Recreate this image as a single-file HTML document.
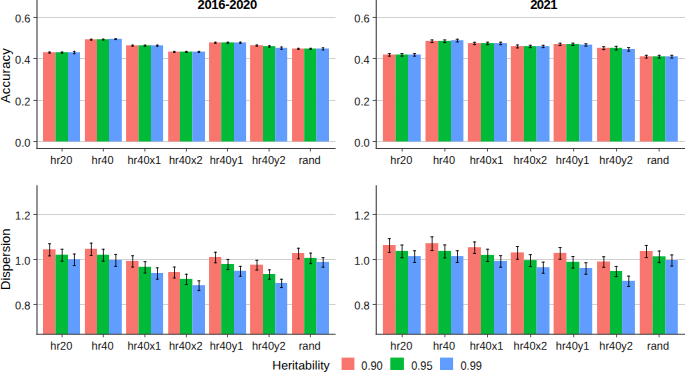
<!DOCTYPE html>
<html><head><meta charset="utf-8"><title>chart</title>
<style>
html,body{margin:0;padding:0;background:#fff;}
body{width:685px;height:372px;overflow:hidden;position:relative;}
svg text{font-family:"Liberation Sans",sans-serif;}
</style></head><body>
<svg width="685" height="372" viewBox="0 0 685 372" style="display:block;position:absolute;left:0;top:0">
<rect x="0" y="0" width="685" height="372" fill="#ffffff"/>
<line x1="37.00" y1="17.45" x2="335.60" y2="17.45" stroke="#d0d0d0" stroke-width="1.1"/>
<line x1="37.00" y1="58.50" x2="335.60" y2="58.50" stroke="#d0d0d0" stroke-width="1.1"/>
<line x1="37.00" y1="100.45" x2="335.60" y2="100.45" stroke="#d0d0d0" stroke-width="1.1"/>
<line x1="37.00" y1="141.50" x2="335.60" y2="141.50" stroke="#d0d0d0" stroke-width="1.1"/>
<rect x="43.00" y="52.20" width="12.55" height="89.30" fill="#F8766D"/>
<rect x="55.50" y="52.20" width="12.55" height="89.30" fill="#00BA38"/>
<rect x="68.00" y="52.20" width="12.00" height="89.30" fill="#619CFF"/>
<path d="M48.20 52.00H50.80M48.20 53.10H50.80M49.70 51.50V53.60" stroke="#000" stroke-width="0.85" fill="none"/>
<path d="M60.70 52.00H63.30M60.70 53.10H63.30M62.20 51.50V53.60" stroke="#000" stroke-width="0.85" fill="none"/>
<path d="M72.95 51.40H75.55M72.95 53.70H75.55M74.45 50.90V54.20" stroke="#000" stroke-width="0.85" fill="none"/>
<rect x="84.90" y="39.30" width="12.05" height="102.20" fill="#F8766D"/>
<rect x="96.90" y="39.20" width="12.15" height="102.30" fill="#00BA38"/>
<rect x="109.00" y="38.80" width="12.80" height="102.70" fill="#619CFF"/>
<path d="M89.85 39.20H92.45M89.85 40.10H92.45M91.35 38.70V40.60" stroke="#000" stroke-width="0.85" fill="none"/>
<path d="M101.90 39.15H104.50M101.90 39.95H104.50M103.40 38.65V40.45" stroke="#000" stroke-width="0.85" fill="none"/>
<path d="M114.35 38.75H116.95M114.35 39.55H116.95M115.85 38.25V40.05" stroke="#000" stroke-width="0.85" fill="none"/>
<rect x="126.10" y="45.30" width="12.45" height="96.20" fill="#F8766D"/>
<rect x="138.50" y="45.30" width="12.50" height="96.20" fill="#00BA38"/>
<rect x="150.95" y="45.30" width="12.15" height="96.20" fill="#619CFF"/>
<path d="M131.25 45.10H133.85M131.25 46.20H133.85M132.75 44.60V46.70" stroke="#000" stroke-width="0.85" fill="none"/>
<path d="M143.67 45.10H146.28M143.67 46.20H146.28M145.17 44.60V46.70" stroke="#000" stroke-width="0.85" fill="none"/>
<path d="M155.97 45.10H158.57M155.97 46.20H158.57M157.47 44.60V46.70" stroke="#000" stroke-width="0.85" fill="none"/>
<rect x="168.20" y="51.60" width="11.75" height="89.90" fill="#F8766D"/>
<rect x="179.90" y="51.60" width="12.45" height="89.90" fill="#00BA38"/>
<rect x="192.30" y="51.60" width="12.70" height="89.90" fill="#619CFF"/>
<path d="M173.00 51.40H175.60M173.00 52.50H175.60M174.50 50.90V53.00" stroke="#000" stroke-width="0.85" fill="none"/>
<path d="M185.05 51.40H187.65M185.05 52.50H187.65M186.55 50.90V53.00" stroke="#000" stroke-width="0.85" fill="none"/>
<path d="M197.60 51.40H200.20M197.60 52.50H200.20M199.10 50.90V53.00" stroke="#000" stroke-width="0.85" fill="none"/>
<rect x="209.05" y="42.40" width="12.20" height="99.10" fill="#F8766D"/>
<rect x="221.20" y="42.40" width="12.85" height="99.10" fill="#00BA38"/>
<rect x="234.00" y="42.40" width="12.10" height="99.10" fill="#619CFF"/>
<path d="M214.07 42.20H216.68M214.07 43.30H216.68M215.57 41.70V43.80" stroke="#000" stroke-width="0.85" fill="none"/>
<path d="M226.55 42.20H229.15M226.55 43.30H229.15M228.05 41.70V43.80" stroke="#000" stroke-width="0.85" fill="none"/>
<path d="M239.00 42.10H241.60M239.00 43.40H241.60M240.50 41.60V43.90" stroke="#000" stroke-width="0.85" fill="none"/>
<rect x="250.10" y="45.20" width="12.95" height="96.30" fill="#F8766D"/>
<rect x="263.00" y="46.10" width="12.25" height="95.40" fill="#00BA38"/>
<rect x="275.20" y="47.80" width="12.00" height="93.70" fill="#619CFF"/>
<path d="M255.50 45.00H258.10M255.50 46.10H258.10M257.00 44.50V46.60" stroke="#000" stroke-width="0.85" fill="none"/>
<path d="M268.05 45.70H270.65M268.05 47.20H270.65M269.55 45.20V47.70" stroke="#000" stroke-width="0.85" fill="none"/>
<path d="M280.15 47.00H282.75M280.15 49.30H282.75M281.65 46.50V49.80" stroke="#000" stroke-width="0.85" fill="none"/>
<rect x="292.05" y="48.50" width="12.20" height="93.00" fill="#F8766D"/>
<rect x="304.20" y="48.50" width="12.35" height="93.00" fill="#00BA38"/>
<rect x="316.50" y="48.50" width="12.50" height="93.00" fill="#619CFF"/>
<path d="M297.07 48.30H299.68M297.07 49.40H299.68M298.57 47.80V49.90" stroke="#000" stroke-width="0.85" fill="none"/>
<path d="M309.30 48.30H311.90M309.30 49.40H311.90M310.80 47.80V49.90" stroke="#000" stroke-width="0.85" fill="none"/>
<path d="M321.70 47.80H324.30M321.70 49.90H324.30M323.20 47.30V50.40" stroke="#000" stroke-width="0.85" fill="none"/>
<line x1="37.00" y1="0.00" x2="37.00" y2="149.05" stroke="#404040" stroke-width="1.12"/>
<line x1="36.47" y1="148.52" x2="335.60" y2="148.52" stroke="#404040" stroke-width="1.12"/>
<line x1="33.40" y1="17.45" x2="37.00" y2="17.45" stroke="#404040" stroke-width="0.9"/>
<text transform="translate(30.40,22.60) scale(1,1.053) rotate(0.05)" text-anchor="end" font-size="11.00" fill="#111111">0.6</text>
<line x1="33.40" y1="58.50" x2="37.00" y2="58.50" stroke="#404040" stroke-width="0.9"/>
<text transform="translate(30.40,63.65) scale(1,1.053) rotate(0.05)" text-anchor="end" font-size="11.00" fill="#111111">0.4</text>
<line x1="33.40" y1="100.45" x2="37.00" y2="100.45" stroke="#404040" stroke-width="0.9"/>
<text transform="translate(30.40,105.60) scale(1,1.053) rotate(0.05)" text-anchor="end" font-size="11.00" fill="#111111">0.2</text>
<line x1="33.40" y1="141.50" x2="37.00" y2="141.50" stroke="#404040" stroke-width="0.9"/>
<text transform="translate(30.40,146.65) scale(1,1.053) rotate(0.05)" text-anchor="end" font-size="11.00" fill="#111111">0.0</text>
<line x1="62.10" y1="148.52" x2="62.10" y2="151.52" stroke="#404040" stroke-width="0.9"/>
<text transform="translate(61.30,164.10) scale(1,1.053) rotate(0.05)" text-anchor="middle" font-size="11.00" fill="#111111">hr20</text>
<line x1="103.30" y1="148.52" x2="103.30" y2="151.52" stroke="#404040" stroke-width="0.9"/>
<text transform="translate(102.55,164.10) scale(1,1.053) rotate(0.05)" text-anchor="middle" font-size="11.00" fill="#111111">hr40</text>
<line x1="144.90" y1="148.52" x2="144.90" y2="151.52" stroke="#404040" stroke-width="0.9"/>
<text transform="translate(144.30,164.10) scale(1,1.053) rotate(0.05)" text-anchor="middle" font-size="11.00" fill="#111111">hr40x1</text>
<line x1="186.40" y1="148.52" x2="186.40" y2="151.52" stroke="#404040" stroke-width="0.9"/>
<text transform="translate(185.70,164.10) scale(1,1.053) rotate(0.05)" text-anchor="middle" font-size="11.00" fill="#111111">hr40x2</text>
<line x1="227.50" y1="148.52" x2="227.50" y2="151.52" stroke="#404040" stroke-width="0.9"/>
<text transform="translate(226.50,164.10) scale(1,1.053) rotate(0.05)" text-anchor="middle" font-size="11.00" fill="#111111">hr40y1</text>
<line x1="269.10" y1="148.52" x2="269.10" y2="151.52" stroke="#404040" stroke-width="0.9"/>
<text transform="translate(268.80,164.10) scale(1,1.053) rotate(0.05)" text-anchor="middle" font-size="11.00" fill="#111111">hr40y2</text>
<line x1="310.40" y1="148.52" x2="310.40" y2="151.52" stroke="#404040" stroke-width="0.9"/>
<text transform="translate(309.65,164.10) scale(1,1.053) rotate(0.05)" text-anchor="middle" font-size="11.00" fill="#111111">rand</text>
<line x1="376.25" y1="17.45" x2="686.00" y2="17.45" stroke="#d0d0d0" stroke-width="1.1"/>
<line x1="376.25" y1="58.50" x2="686.00" y2="58.50" stroke="#d0d0d0" stroke-width="1.1"/>
<line x1="376.25" y1="100.45" x2="686.00" y2="100.45" stroke="#d0d0d0" stroke-width="1.1"/>
<line x1="376.25" y1="141.50" x2="686.00" y2="141.50" stroke="#d0d0d0" stroke-width="1.1"/>
<rect x="382.90" y="54.50" width="12.75" height="87.00" fill="#F8766D"/>
<rect x="395.60" y="54.50" width="12.45" height="87.00" fill="#00BA38"/>
<rect x="408.00" y="54.50" width="12.75" height="87.00" fill="#619CFF"/>
<path d="M387.75 53.60H390.95M387.75 56.10H390.95M389.55 53.10V56.60" stroke="#000" stroke-width="0.85" fill="none"/>
<path d="M400.30 53.60H403.50M400.30 56.10H403.50M402.10 53.10V56.60" stroke="#000" stroke-width="0.85" fill="none"/>
<path d="M412.88 53.60H416.08M412.88 56.10H416.08M414.68 53.10V56.60" stroke="#000" stroke-width="0.85" fill="none"/>
<rect x="425.50" y="40.90" width="12.75" height="100.60" fill="#F8766D"/>
<rect x="438.20" y="40.90" width="12.85" height="100.60" fill="#00BA38"/>
<rect x="451.00" y="40.20" width="12.40" height="101.30" fill="#619CFF"/>
<path d="M430.35 39.95H433.55M430.35 42.55H433.55M432.15 39.45V43.05" stroke="#000" stroke-width="0.85" fill="none"/>
<path d="M443.10 39.95H446.30M443.10 42.55H446.30M444.90 39.45V43.05" stroke="#000" stroke-width="0.85" fill="none"/>
<path d="M455.70 39.25H458.90M455.70 41.85H458.90M457.50 38.75V42.35" stroke="#000" stroke-width="0.85" fill="none"/>
<rect x="467.90" y="43.10" width="13.05" height="98.40" fill="#F8766D"/>
<rect x="480.90" y="43.10" width="13.15" height="98.40" fill="#00BA38"/>
<rect x="494.00" y="43.10" width="13.00" height="98.40" fill="#619CFF"/>
<path d="M472.90 42.30H476.10M472.90 44.60H476.10M474.70 41.80V45.10" stroke="#000" stroke-width="0.85" fill="none"/>
<path d="M485.95 42.20H489.15M485.95 44.70H489.15M487.75 41.70V45.20" stroke="#000" stroke-width="0.85" fill="none"/>
<path d="M499.00 42.20H502.20M499.00 44.70H502.20M500.80 41.70V45.20" stroke="#000" stroke-width="0.85" fill="none"/>
<rect x="510.80" y="46.10" width="13.05" height="95.40" fill="#F8766D"/>
<rect x="523.80" y="46.10" width="12.85" height="95.40" fill="#00BA38"/>
<rect x="536.60" y="46.10" width="12.90" height="95.40" fill="#619CFF"/>
<path d="M515.80 45.00H519.00M515.80 47.90H519.00M517.60 44.50V48.40" stroke="#000" stroke-width="0.85" fill="none"/>
<path d="M528.70 45.30H531.90M528.70 47.60H531.90M530.50 44.80V48.10" stroke="#000" stroke-width="0.85" fill="none"/>
<path d="M541.55 45.30H544.75M541.55 47.60H544.75M543.35 44.80V48.10" stroke="#000" stroke-width="0.85" fill="none"/>
<rect x="553.60" y="44.00" width="12.75" height="97.50" fill="#F8766D"/>
<rect x="566.30" y="44.00" width="13.05" height="97.50" fill="#00BA38"/>
<rect x="579.30" y="44.60" width="12.90" height="96.90" fill="#619CFF"/>
<path d="M558.45 43.20H561.65M558.45 45.50H561.65M560.25 42.70V46.00" stroke="#000" stroke-width="0.85" fill="none"/>
<path d="M571.30 43.20H574.50M571.30 45.50H574.50M573.10 42.70V46.00" stroke="#000" stroke-width="0.85" fill="none"/>
<path d="M584.25 43.80H587.45M584.25 46.10H587.45M586.05 43.30V46.60" stroke="#000" stroke-width="0.85" fill="none"/>
<rect x="597.10" y="47.80" width="12.95" height="93.70" fill="#F8766D"/>
<rect x="610.00" y="47.80" width="12.15" height="93.70" fill="#00BA38"/>
<rect x="622.10" y="49.00" width="12.80" height="92.50" fill="#619CFF"/>
<path d="M602.05 46.70H605.25M602.05 49.60H605.25M603.85 46.20V50.10" stroke="#000" stroke-width="0.85" fill="none"/>
<path d="M614.55 46.35H617.75M614.55 49.95H617.75M616.35 45.85V50.45" stroke="#000" stroke-width="0.85" fill="none"/>
<path d="M627.00 47.60H630.20M627.00 51.10H630.20M628.80 47.10V51.60" stroke="#000" stroke-width="0.85" fill="none"/>
<rect x="639.80" y="56.30" width="12.85" height="85.20" fill="#F8766D"/>
<rect x="652.60" y="56.30" width="12.95" height="85.20" fill="#00BA38"/>
<rect x="665.50" y="56.30" width="12.30" height="85.20" fill="#619CFF"/>
<path d="M644.70 55.30H647.90M644.70 58.00H647.90M646.50 54.80V58.50" stroke="#000" stroke-width="0.85" fill="none"/>
<path d="M657.55 55.30H660.75M657.55 58.00H660.75M659.35 54.80V58.50" stroke="#000" stroke-width="0.85" fill="none"/>
<path d="M670.15 55.30H673.35M670.15 58.00H673.35M671.95 54.80V58.50" stroke="#000" stroke-width="0.85" fill="none"/>
<line x1="376.25" y1="0.00" x2="376.25" y2="149.05" stroke="#404040" stroke-width="1.12"/>
<line x1="375.72" y1="148.52" x2="686.00" y2="148.52" stroke="#404040" stroke-width="1.12"/>
<line x1="372.65" y1="17.45" x2="376.25" y2="17.45" stroke="#404040" stroke-width="0.9"/>
<text transform="translate(369.65,22.60) scale(1,1.053) rotate(0.05)" text-anchor="end" font-size="11.00" fill="#111111">0.6</text>
<line x1="372.65" y1="58.50" x2="376.25" y2="58.50" stroke="#404040" stroke-width="0.9"/>
<text transform="translate(369.65,63.65) scale(1,1.053) rotate(0.05)" text-anchor="end" font-size="11.00" fill="#111111">0.4</text>
<line x1="372.65" y1="100.45" x2="376.25" y2="100.45" stroke="#404040" stroke-width="0.9"/>
<text transform="translate(369.65,105.60) scale(1,1.053) rotate(0.05)" text-anchor="end" font-size="11.00" fill="#111111">0.2</text>
<line x1="372.65" y1="141.50" x2="376.25" y2="141.50" stroke="#404040" stroke-width="0.9"/>
<text transform="translate(369.65,146.65) scale(1,1.053) rotate(0.05)" text-anchor="end" font-size="11.00" fill="#111111">0.0</text>
<line x1="402.20" y1="148.52" x2="402.20" y2="151.52" stroke="#404040" stroke-width="0.9"/>
<text transform="translate(401.30,164.10) scale(1,1.053) rotate(0.05)" text-anchor="middle" font-size="11.00" fill="#111111">hr20</text>
<line x1="444.90" y1="148.52" x2="444.90" y2="151.52" stroke="#404040" stroke-width="0.9"/>
<text transform="translate(444.00,164.10) scale(1,1.053) rotate(0.05)" text-anchor="middle" font-size="11.00" fill="#111111">hr40</text>
<line x1="487.50" y1="148.52" x2="487.50" y2="151.52" stroke="#404040" stroke-width="0.9"/>
<text transform="translate(486.50,164.10) scale(1,1.053) rotate(0.05)" text-anchor="middle" font-size="11.00" fill="#111111">hr40x1</text>
<line x1="530.70" y1="148.52" x2="530.70" y2="151.52" stroke="#404040" stroke-width="0.9"/>
<text transform="translate(530.40,164.10) scale(1,1.053) rotate(0.05)" text-anchor="middle" font-size="11.00" fill="#111111">hr40x2</text>
<line x1="573.70" y1="148.52" x2="573.70" y2="151.52" stroke="#404040" stroke-width="0.9"/>
<text transform="translate(572.60,164.10) scale(1,1.053) rotate(0.05)" text-anchor="middle" font-size="11.00" fill="#111111">hr40y1</text>
<line x1="616.60" y1="148.52" x2="616.60" y2="151.52" stroke="#404040" stroke-width="0.9"/>
<text transform="translate(616.10,164.10) scale(1,1.053) rotate(0.05)" text-anchor="middle" font-size="11.00" fill="#111111">hr40y2</text>
<line x1="659.10" y1="148.52" x2="659.10" y2="151.52" stroke="#404040" stroke-width="0.9"/>
<text transform="translate(658.05,164.10) scale(1,1.053) rotate(0.05)" text-anchor="middle" font-size="11.00" fill="#111111">rand</text>
<line x1="37.00" y1="214.45" x2="335.60" y2="214.45" stroke="#d0d0d0" stroke-width="1.1"/>
<line x1="37.00" y1="259.50" x2="335.60" y2="259.50" stroke="#d0d0d0" stroke-width="1.1"/>
<line x1="37.00" y1="304.45" x2="335.60" y2="304.45" stroke="#d0d0d0" stroke-width="1.1"/>
<rect x="43.00" y="249.30" width="12.55" height="85.00" fill="#F8766D"/>
<rect x="55.50" y="254.70" width="12.55" height="79.60" fill="#00BA38"/>
<rect x="68.00" y="259.30" width="12.00" height="75.00" fill="#619CFF"/>
<path d="M48.00 243.75H51.00M48.00 255.85H51.00M49.70 243.25V256.35" stroke="#000" stroke-width="0.85" fill="none"/>
<path d="M60.50 249.25H63.50M60.50 261.15H63.50M62.20 248.75V261.65" stroke="#000" stroke-width="0.85" fill="none"/>
<path d="M72.75 254.05H75.75M72.75 265.55H75.75M74.45 253.55V266.05" stroke="#000" stroke-width="0.85" fill="none"/>
<rect x="84.90" y="248.80" width="12.05" height="85.50" fill="#F8766D"/>
<rect x="96.90" y="254.70" width="12.15" height="79.60" fill="#00BA38"/>
<rect x="109.00" y="259.90" width="12.80" height="74.40" fill="#619CFF"/>
<path d="M89.65 243.15H92.65M89.65 255.45H92.65M91.35 242.65V255.95" stroke="#000" stroke-width="0.85" fill="none"/>
<path d="M101.70 249.25H104.70M101.70 261.15H104.70M103.40 248.75V261.65" stroke="#000" stroke-width="0.85" fill="none"/>
<path d="M114.15 254.45H117.15M114.15 266.35H117.15M115.85 253.95V266.85" stroke="#000" stroke-width="0.85" fill="none"/>
<rect x="126.10" y="260.90" width="12.45" height="73.40" fill="#F8766D"/>
<rect x="138.50" y="266.80" width="12.50" height="67.50" fill="#00BA38"/>
<rect x="150.95" y="273.00" width="12.15" height="61.30" fill="#619CFF"/>
<path d="M131.05 255.75H134.05M131.05 267.05H134.05M132.75 255.25V267.55" stroke="#000" stroke-width="0.85" fill="none"/>
<path d="M143.47 261.65H146.47M143.47 272.95H146.47M145.17 261.15V273.45" stroke="#000" stroke-width="0.85" fill="none"/>
<path d="M155.77 267.85H158.77M155.77 279.15H158.77M157.47 267.35V279.65" stroke="#000" stroke-width="0.85" fill="none"/>
<rect x="168.20" y="272.00" width="11.75" height="62.30" fill="#F8766D"/>
<rect x="179.90" y="278.90" width="12.45" height="55.40" fill="#00BA38"/>
<rect x="192.30" y="285.20" width="12.70" height="49.10" fill="#619CFF"/>
<path d="M172.80 267.05H175.80M172.80 277.95H175.80M174.50 266.55V278.45" stroke="#000" stroke-width="0.85" fill="none"/>
<path d="M184.85 274.25H187.85M184.85 284.55H187.85M186.55 273.75V285.05" stroke="#000" stroke-width="0.85" fill="none"/>
<path d="M197.40 280.85H200.40M197.40 290.55H200.40M199.10 280.35V291.05" stroke="#000" stroke-width="0.85" fill="none"/>
<rect x="209.05" y="257.00" width="12.20" height="77.30" fill="#F8766D"/>
<rect x="221.20" y="264.00" width="12.85" height="70.30" fill="#00BA38"/>
<rect x="234.00" y="270.80" width="12.10" height="63.50" fill="#619CFF"/>
<path d="M213.88 252.25H216.88M213.88 262.75H216.88M215.57 251.75V263.25" stroke="#000" stroke-width="0.85" fill="none"/>
<path d="M226.35 259.45H229.35M226.35 269.55H229.35M228.05 258.95V270.05" stroke="#000" stroke-width="0.85" fill="none"/>
<path d="M238.80 266.35H241.80M238.80 276.25H241.80M240.50 265.85V276.75" stroke="#000" stroke-width="0.85" fill="none"/>
<rect x="250.10" y="264.70" width="12.95" height="69.60" fill="#F8766D"/>
<rect x="263.00" y="274.00" width="12.25" height="60.30" fill="#00BA38"/>
<rect x="275.20" y="282.90" width="12.00" height="51.40" fill="#619CFF"/>
<path d="M255.30 260.35H258.30M255.30 270.05H258.30M257.00 259.85V270.55" stroke="#000" stroke-width="0.85" fill="none"/>
<path d="M267.85 269.85H270.85M267.85 279.15H270.85M269.55 269.35V279.65" stroke="#000" stroke-width="0.85" fill="none"/>
<path d="M279.95 279.25H282.95M279.95 287.55H282.95M281.65 278.75V288.05" stroke="#000" stroke-width="0.85" fill="none"/>
<rect x="292.05" y="253.00" width="12.20" height="81.30" fill="#F8766D"/>
<rect x="304.20" y="257.90" width="12.35" height="76.40" fill="#00BA38"/>
<rect x="316.50" y="261.90" width="12.50" height="72.40" fill="#619CFF"/>
<path d="M296.88 248.25H299.88M296.88 258.75H299.88M298.57 247.75V259.25" stroke="#000" stroke-width="0.85" fill="none"/>
<path d="M309.10 253.15H312.10M309.10 263.65H312.10M310.80 252.65V264.15" stroke="#000" stroke-width="0.85" fill="none"/>
<path d="M321.50 257.65H324.50M321.50 267.15H324.50M323.20 257.15V267.65" stroke="#000" stroke-width="0.85" fill="none"/>
<line x1="37.00" y1="185.30" x2="37.00" y2="334.83" stroke="#404040" stroke-width="1.12"/>
<line x1="36.47" y1="334.30" x2="335.60" y2="334.30" stroke="#404040" stroke-width="1.12"/>
<line x1="33.40" y1="214.45" x2="37.00" y2="214.45" stroke="#404040" stroke-width="0.9"/>
<text transform="translate(30.40,219.60) scale(1,1.053) rotate(0.05)" text-anchor="end" font-size="11.00" fill="#111111">1.2</text>
<line x1="33.40" y1="259.50" x2="37.00" y2="259.50" stroke="#404040" stroke-width="0.9"/>
<text transform="translate(30.40,264.65) scale(1,1.053) rotate(0.05)" text-anchor="end" font-size="11.00" fill="#111111">1.0</text>
<line x1="33.40" y1="304.45" x2="37.00" y2="304.45" stroke="#404040" stroke-width="0.9"/>
<text transform="translate(30.40,309.60) scale(1,1.053) rotate(0.05)" text-anchor="end" font-size="11.00" fill="#111111">0.8</text>
<line x1="62.10" y1="334.30" x2="62.10" y2="337.30" stroke="#404040" stroke-width="0.9"/>
<text transform="translate(61.30,349.70) scale(1,1.053) rotate(0.05)" text-anchor="middle" font-size="11.00" fill="#111111">hr20</text>
<line x1="103.30" y1="334.30" x2="103.30" y2="337.30" stroke="#404040" stroke-width="0.9"/>
<text transform="translate(102.55,349.70) scale(1,1.053) rotate(0.05)" text-anchor="middle" font-size="11.00" fill="#111111">hr40</text>
<line x1="144.90" y1="334.30" x2="144.90" y2="337.30" stroke="#404040" stroke-width="0.9"/>
<text transform="translate(144.30,349.70) scale(1,1.053) rotate(0.05)" text-anchor="middle" font-size="11.00" fill="#111111">hr40x1</text>
<line x1="186.40" y1="334.30" x2="186.40" y2="337.30" stroke="#404040" stroke-width="0.9"/>
<text transform="translate(185.70,349.70) scale(1,1.053) rotate(0.05)" text-anchor="middle" font-size="11.00" fill="#111111">hr40x2</text>
<line x1="227.50" y1="334.30" x2="227.50" y2="337.30" stroke="#404040" stroke-width="0.9"/>
<text transform="translate(226.50,349.70) scale(1,1.053) rotate(0.05)" text-anchor="middle" font-size="11.00" fill="#111111">hr40y1</text>
<line x1="269.10" y1="334.30" x2="269.10" y2="337.30" stroke="#404040" stroke-width="0.9"/>
<text transform="translate(268.80,349.70) scale(1,1.053) rotate(0.05)" text-anchor="middle" font-size="11.00" fill="#111111">hr40y2</text>
<line x1="310.40" y1="334.30" x2="310.40" y2="337.30" stroke="#404040" stroke-width="0.9"/>
<text transform="translate(309.65,349.70) scale(1,1.053) rotate(0.05)" text-anchor="middle" font-size="11.00" fill="#111111">rand</text>
<line x1="376.25" y1="214.45" x2="686.00" y2="214.45" stroke="#d0d0d0" stroke-width="1.1"/>
<line x1="376.25" y1="259.50" x2="686.00" y2="259.50" stroke="#d0d0d0" stroke-width="1.1"/>
<line x1="376.25" y1="304.45" x2="686.00" y2="304.45" stroke="#d0d0d0" stroke-width="1.1"/>
<rect x="382.90" y="245.00" width="12.75" height="89.30" fill="#F8766D"/>
<rect x="395.60" y="250.90" width="12.45" height="83.40" fill="#00BA38"/>
<rect x="408.00" y="256.10" width="12.75" height="78.20" fill="#619CFF"/>
<path d="M387.75 238.65H390.95M387.75 252.35H390.95M389.55 238.15V252.85" stroke="#000" stroke-width="0.85" fill="none"/>
<path d="M400.30 245.05H403.50M400.30 257.75H403.50M402.10 244.55V258.25" stroke="#000" stroke-width="0.85" fill="none"/>
<path d="M412.88 250.75H416.08M412.88 262.45H416.08M414.68 250.25V262.95" stroke="#000" stroke-width="0.85" fill="none"/>
<rect x="425.50" y="243.20" width="12.75" height="91.10" fill="#F8766D"/>
<rect x="438.20" y="250.90" width="12.85" height="83.40" fill="#00BA38"/>
<rect x="451.00" y="256.10" width="12.40" height="78.20" fill="#619CFF"/>
<path d="M430.35 236.85H433.55M430.35 250.55H433.55M432.15 236.35V251.05" stroke="#000" stroke-width="0.85" fill="none"/>
<path d="M443.10 244.95H446.30M443.10 257.85H446.30M444.90 244.45V258.35" stroke="#000" stroke-width="0.85" fill="none"/>
<path d="M455.70 250.75H458.90M455.70 262.45H458.90M457.50 250.25V262.95" stroke="#000" stroke-width="0.85" fill="none"/>
<rect x="467.90" y="247.20" width="13.05" height="87.10" fill="#F8766D"/>
<rect x="480.90" y="254.90" width="13.15" height="79.40" fill="#00BA38"/>
<rect x="494.00" y="260.90" width="13.00" height="73.40" fill="#619CFF"/>
<path d="M472.90 241.95H476.10M472.90 253.45H476.10M474.70 241.45V253.95" stroke="#000" stroke-width="0.85" fill="none"/>
<path d="M485.95 249.25H489.15M485.95 261.55H489.15M487.75 248.75V262.05" stroke="#000" stroke-width="0.85" fill="none"/>
<path d="M499.00 255.65H502.20M499.00 267.15H502.20M500.80 255.15V267.65" stroke="#000" stroke-width="0.85" fill="none"/>
<rect x="510.80" y="252.40" width="13.05" height="81.90" fill="#F8766D"/>
<rect x="523.80" y="260.10" width="12.85" height="74.20" fill="#00BA38"/>
<rect x="536.60" y="267.20" width="12.90" height="67.10" fill="#619CFF"/>
<path d="M515.80 246.55H519.00M515.80 259.25H519.00M517.60 246.05V259.75" stroke="#000" stroke-width="0.85" fill="none"/>
<path d="M528.70 254.65H531.90M528.70 266.55H531.90M530.50 254.15V267.05" stroke="#000" stroke-width="0.85" fill="none"/>
<path d="M541.55 262.15H544.75M541.55 273.25H544.75M543.35 261.65V273.75" stroke="#000" stroke-width="0.85" fill="none"/>
<rect x="553.60" y="252.90" width="12.75" height="81.40" fill="#F8766D"/>
<rect x="566.30" y="261.80" width="13.05" height="72.50" fill="#00BA38"/>
<rect x="579.30" y="268.00" width="12.90" height="66.30" fill="#619CFF"/>
<path d="M558.45 247.55H561.65M558.45 259.25H561.65M560.25 247.05V259.75" stroke="#000" stroke-width="0.85" fill="none"/>
<path d="M571.30 256.55H574.50M571.30 268.05H574.50M573.10 256.05V268.55" stroke="#000" stroke-width="0.85" fill="none"/>
<path d="M584.25 262.75H587.45M584.25 274.25H587.45M586.05 262.25V274.75" stroke="#000" stroke-width="0.85" fill="none"/>
<rect x="597.10" y="261.50" width="12.95" height="72.80" fill="#F8766D"/>
<rect x="610.00" y="271.00" width="12.15" height="63.30" fill="#00BA38"/>
<rect x="622.10" y="280.80" width="12.80" height="53.50" fill="#619CFF"/>
<path d="M602.05 256.75H605.25M602.05 267.25H605.25M603.85 256.25V267.75" stroke="#000" stroke-width="0.85" fill="none"/>
<path d="M614.55 266.45H617.75M614.55 276.55H617.75M616.35 265.95V277.05" stroke="#000" stroke-width="0.85" fill="none"/>
<path d="M627.00 276.15H630.20M627.00 286.45H630.20M628.80 275.65V286.95" stroke="#000" stroke-width="0.85" fill="none"/>
<rect x="639.80" y="251.00" width="12.85" height="83.30" fill="#F8766D"/>
<rect x="652.60" y="256.30" width="12.95" height="78.00" fill="#00BA38"/>
<rect x="665.50" y="260.00" width="12.30" height="74.30" fill="#619CFF"/>
<path d="M644.70 245.45H647.90M644.70 257.55H647.90M646.50 244.95V258.05" stroke="#000" stroke-width="0.85" fill="none"/>
<path d="M657.55 251.05H660.75M657.55 262.55H660.75M659.35 250.55V263.05" stroke="#000" stroke-width="0.85" fill="none"/>
<path d="M670.15 254.95H673.35M670.15 266.05H673.35M671.95 254.45V266.55" stroke="#000" stroke-width="0.85" fill="none"/>
<line x1="376.25" y1="185.30" x2="376.25" y2="334.83" stroke="#404040" stroke-width="1.12"/>
<line x1="375.72" y1="334.30" x2="686.00" y2="334.30" stroke="#404040" stroke-width="1.12"/>
<line x1="372.65" y1="214.45" x2="376.25" y2="214.45" stroke="#404040" stroke-width="0.9"/>
<text transform="translate(369.65,219.60) scale(1,1.053) rotate(0.05)" text-anchor="end" font-size="11.00" fill="#111111">1.2</text>
<line x1="372.65" y1="259.50" x2="376.25" y2="259.50" stroke="#404040" stroke-width="0.9"/>
<text transform="translate(369.65,264.65) scale(1,1.053) rotate(0.05)" text-anchor="end" font-size="11.00" fill="#111111">1.0</text>
<line x1="372.65" y1="304.45" x2="376.25" y2="304.45" stroke="#404040" stroke-width="0.9"/>
<text transform="translate(369.65,309.60) scale(1,1.053) rotate(0.05)" text-anchor="end" font-size="11.00" fill="#111111">0.8</text>
<line x1="402.20" y1="334.30" x2="402.20" y2="337.30" stroke="#404040" stroke-width="0.9"/>
<text transform="translate(401.30,349.70) scale(1,1.053) rotate(0.05)" text-anchor="middle" font-size="11.00" fill="#111111">hr20</text>
<line x1="444.90" y1="334.30" x2="444.90" y2="337.30" stroke="#404040" stroke-width="0.9"/>
<text transform="translate(444.00,349.70) scale(1,1.053) rotate(0.05)" text-anchor="middle" font-size="11.00" fill="#111111">hr40</text>
<line x1="487.50" y1="334.30" x2="487.50" y2="337.30" stroke="#404040" stroke-width="0.9"/>
<text transform="translate(486.50,349.70) scale(1,1.053) rotate(0.05)" text-anchor="middle" font-size="11.00" fill="#111111">hr40x1</text>
<line x1="530.70" y1="334.30" x2="530.70" y2="337.30" stroke="#404040" stroke-width="0.9"/>
<text transform="translate(530.40,349.70) scale(1,1.053) rotate(0.05)" text-anchor="middle" font-size="11.00" fill="#111111">hr40x2</text>
<line x1="573.70" y1="334.30" x2="573.70" y2="337.30" stroke="#404040" stroke-width="0.9"/>
<text transform="translate(572.60,349.70) scale(1,1.053) rotate(0.05)" text-anchor="middle" font-size="11.00" fill="#111111">hr40y1</text>
<line x1="616.60" y1="334.30" x2="616.60" y2="337.30" stroke="#404040" stroke-width="0.9"/>
<text transform="translate(616.10,349.70) scale(1,1.053) rotate(0.05)" text-anchor="middle" font-size="11.00" fill="#111111">hr40y2</text>
<line x1="659.10" y1="334.30" x2="659.10" y2="337.30" stroke="#404040" stroke-width="0.9"/>
<text transform="translate(658.05,349.70) scale(1,1.053) rotate(0.05)" text-anchor="middle" font-size="11.00" fill="#111111">rand</text>
<text x="227.2" y="8.8" text-anchor="middle" font-size="13" letter-spacing="-0.3" font-weight="bold" fill="#000">2016-2020</text>
<text x="543.6" y="8.8" text-anchor="middle" font-size="13" letter-spacing="-0.5" font-weight="bold" fill="#000">2021</text>
<text transform="translate(10.1,75.55) rotate(-90)" text-anchor="middle" font-size="13" letter-spacing="0.2" fill="#000">Accuracy</text>
<text transform="translate(10.2,259.2) rotate(-90)" text-anchor="middle" font-size="13" fill="#000">Dispersion</text>
<text transform="translate(272.30,369.40) scale(1,1.000) rotate(0.05)" text-anchor="start" font-size="12.30" fill="#000">Heritability</text>
<rect x="341.60" y="357.6" width="12.80" height="12.4" fill="#F8766D"/>
<text transform="translate(361.30,369.70) scale(1,1.100) rotate(0.05)" text-anchor="start" font-size="11.00" fill="#111111">0.90</text>
<rect x="390.30" y="357.6" width="13.60" height="12.4" fill="#00BA38"/>
<text transform="translate(411.20,369.70) scale(1,1.100) rotate(0.05)" text-anchor="start" font-size="11.00" fill="#111111">0.95</text>
<rect x="440.00" y="357.6" width="13.10" height="12.4" fill="#619CFF"/>
<text transform="translate(460.50,369.70) scale(1,1.100) rotate(0.05)" text-anchor="start" font-size="11.00" fill="#111111">0.99</text>
</svg>
</body></html>
